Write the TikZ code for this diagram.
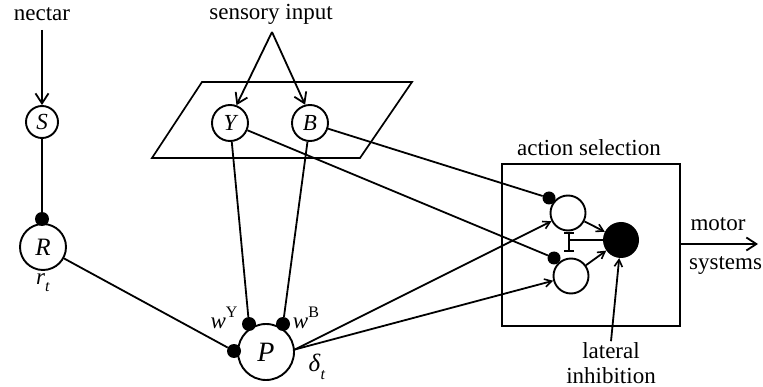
\documentclass[tikz,border=0pt]{standalone}
\usepackage{fontspec}
\setmainfont{Liberation Serif}
\usetikzlibrary{arrows.meta}
\begin{document}
\begin{tikzpicture}[x=1pt,y=-1pt,
  every node/.style={font=\fontsize{23}{25}\selectfont},
  ln/.style={line width=1.8pt},
  nd/.style={circle, draw, line width=1.9pt, inner sep=0pt, font=\fontsize{23}{25}\selectfont\itshape},
  dot/.style={circle, fill=black, inner sep=0pt, minimum size=14pt},
  barb/.style={-{Straight Barb[length=10pt,width=13pt,line width=1.8pt]}},
  sarr/.style={-{Straight Barb[length=7pt,width=8pt,line width=1.6pt]}},
  lbl/.style={inner sep=1pt}
]
\useasboundingbox (0,0) rectangle (763,387);

% texts
\node[lbl] (nectar) at (42,14) {nectar};
\node[lbl] (sens) at (271,14) {sensory input};
\coordinate (apex) at (272,32);
\coordinate (nstart) at (42,30);
\node[lbl] (asel) at (589,148) {action selection};
\node[lbl] (motor) at (718,224) {motor};
\node[lbl, anchor=west] (systems) at (688,266) {systems};
\node[lbl, align=center, font=\fontsize{23}{25}\selectfont] (lat) at (611,363) {lateral\\inhibition};

% parallelogram
\draw[line width=1.7pt] (202,82) -- (412,82) -- (360,158) -- (152,158) -- cycle;

% action selection box
\node[draw, line width=1.8pt, minimum width=178pt, minimum height=162pt, inner sep=0pt] (box) at (591,245) {};

% circles
\node[nd, minimum size=32pt] (S) at (42,122) {S};
\node[nd, minimum size=46pt, font=\fontsize{25}{27}\selectfont\itshape] (R) at (43,247) {R};
\node[nd, minimum size=36pt] (Y) at (230,123) {Y};
\node[nd, minimum size=36pt] (B) at (310,123) {B};
\node[nd, minimum size=56pt, font=\fontsize{28}{30}\selectfont\itshape] (P) at (266,352) {P};
\node[nd, minimum size=35pt] (U) at (568,213) {};
\node[nd, minimum size=35pt] (L) at (571,276) {};
\node[circle, fill=black, inner sep=0pt, minimum size=36pt] (Big) at (621,240) {};

% dots
\node[dot] (dR) at (42,219) {};
\node[dot] (dPY) at (249,324) {};
\node[dot] (dPB) at (283,324) {};
\node[dot] (dPL) at (234,351) {};
\node[dot, minimum size=13pt] (dU) at (549,198) {};
\node[dot, minimum size=13pt] (dL) at (554,258) {};

% labels
\node[lbl] (rt) at (43,283) {\textit{r}\raisebox{-0.3em}{\fontsize{16}{17}\selectfont\textit{t}}};
\node[lbl] (wY) at (224,318) {\textit{w}\raisebox{0.45em}{\fontsize{16}{17}\selectfont Y}};
\node[lbl] (wB) at (306,318) {\textit{w}\raisebox{0.45em}{\fontsize{16}{17}\selectfont B}};
\node[lbl] (dt) at (317,367) {\fontsize{25}{27}\selectfont\textit{δ}\raisebox{-0.3em}{\fontsize{16}{17}\selectfont\textit{t}}};

% connectors
\draw[ln, barb] (nstart) -- (S);
\draw[ln, barb] (apex) -- (Y.70);
\draw[ln, barb] (apex) -- (B.105);
\draw[ln] (S) -- (dR);
\draw[ln] (R) -- (dPL);
\draw[ln] (Y) -- (dPY);
\draw[ln] (B) -- (dPB);
\draw[ln] (Y) -- (dL);
\draw[ln] (B) -- (dU);
\draw[ln, sarr] (P.5) -- (U);
\draw[ln, sarr] (P.5) -- (L);
\draw[ln, sarr] (U) -- (Big);
\draw[ln, sarr] (L) -- (Big);
\coordinate (iT) at (569,232);
\coordinate (iB) at (569,252);
\coordinate (iM) at (569,240);
\draw[ln, {Bar[width=10pt,line width=1.8pt]}-{Bar[width=10pt,line width=1.8pt]}] (iT) -- (iB);
\draw[ln] (iM) -- (Big);
\draw[ln, sarr] (lat.north) -- (Big);
\coordinate (mend) at (758,244);
\draw[ln, barb] (box.east |- mend) -- (mend);
\end{tikzpicture}
\end{document}
